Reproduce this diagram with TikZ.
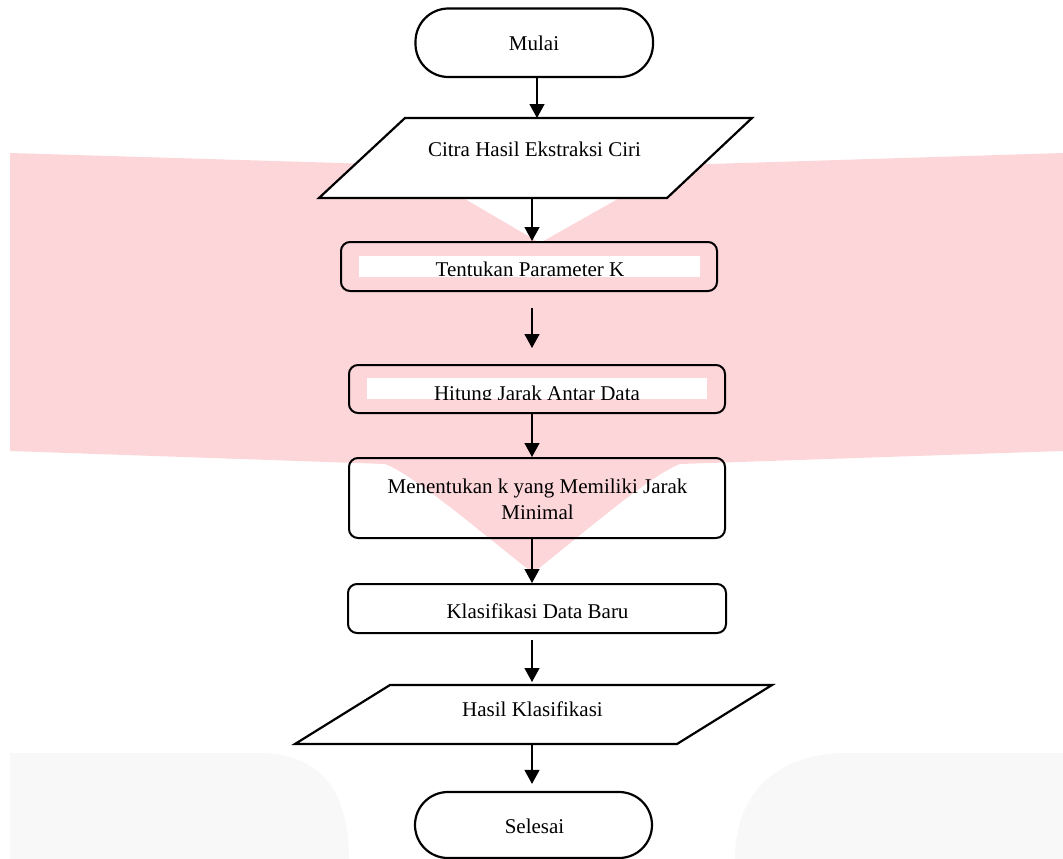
\documentclass[tikz,border=0pt]{standalone}
\usepackage{fontspec}
\setmainfont{Liberation Serif}
\usetikzlibrary{arrows.meta,calc}
\definecolor{wmpink}{RGB}{253,214,218}
\definecolor{wmgray}{RGB}{248,248,248}
\begin{document}
\begin{tikzpicture}[x=1pt,y=-1pt,
  shapebox/.style={draw=black, line width=2pt, rounded corners=9pt, inner sep=0pt},
  term/.style={draw=black, line width=2.2pt, rounded corners=33pt, inner sep=0pt},
  anch/.style={inner sep=0pt, outer sep=0pt, draw=none},
  txt/.style={anchor=base, inner sep=0pt, font=\fontsize{21}{26}\selectfont},
  arr/.style={line width=1.3pt, -{Triangle[width=15pt,length=14pt]}},
  para/.style={draw=black, line width=2.2pt, fill=white, line join=miter},
  labelbg/.style={fill=white, inner sep=0pt}]
\useasboundingbox (0,0) rectangle (1063,859);
% watermark
\fill[wmpink] (10,153) -- (407,165) -- (540,243) -- (678,165) -- (1063,153) -- (1063,451)
  -- (680,464) .. controls (650,475) and (575,540) .. (533,573)
  .. controls (490,540) and (415,475) .. (385,464) -- (10,451) -- cycle;
\fill[wmgray] (10,753) -- (258,753) .. controls (320,753) and (349,790) .. (349,859) -- (10,859) -- cycle;
\fill[wmgray] (1063,753) -- (847,753) .. controls (780,753) and (735,790) .. (735,859) -- (1063,859) -- cycle;
% columns
\coordinate (colA) at (537,0);
\coordinate (colB) at (532,0);
% Mulai
\node[term, minimum width=237.5pt, minimum height=68.5pt] (mulai) at (534.25,42.75) {};
\node[txt] (mulait) at (534,51) {Mulai};
% Citra
\draw[para] (405,118) -- (752,118) -- (667,198) -- (319,198) -- cycle;
\node[anch, minimum width=340pt, minimum height=80pt] (cit) at (535.5,158) {};
\node[txt] (citt) at (534.5,156) {Citra Hasil Ekstraksi Ciri};
% Tentukan
\node[shapebox, minimum width=376pt, minimum height=49pt] (tent) at (529,266.5) {};
\node[labelbg, minimum width=341pt, minimum height=21pt] (tentbg) at (529.5,266.5) {};
\node[txt] (tentt) at (530,276) {Tentukan Parameter K};
% Hitung
\node[shapebox, minimum width=376pt, minimum height=48pt] (hit) at (537,389) {};
\node[labelbg, minimum width=340pt, minimum height=21pt] (hitbg) at (537,388.5) {};
\begin{scope}
  \clip (367,378) rectangle (707,399);
  \node[txt] (hitt) at (537,400) {Hitung Jarak Antar Data};
\end{scope}
% Menentukan
\node[shapebox, minimum width=376pt, minimum height=80pt] (ment) at (537,498) {};
\node[txt] (mentt1) at (537.5,493) {Menentukan k yang Memiliki Jarak};
\node[txt] (mentt2) at (537.5,519) {Minimal};
% Klasifikasi
\node[shapebox, minimum width=378pt, minimum height=49pt] (klas) at (537,608.5) {};
\node[txt] (klast) at (537.5,618) {Klasifikasi Data Baru};
% Hasil
\draw[para] (390,685) -- (772,685) -- (677,744) -- (295,744) -- cycle;
\node[anch, minimum width=380pt, minimum height=59pt] (hasil) at (533.5,714.5) {};
\node[txt] (hasilt) at (532.5,716) {Hasil Klasifikasi};
% Selesai
\node[term, minimum width=237pt, minimum height=66pt] (sel) at (533.5,825) {};
\node[txt] (selt) at (534.5,833) {Selesai};
% arrows
\draw[arr] (mulai.south -| colA) -- (cit.north -| colA);
\draw[arr] (cit.south -| colB) -- (tent.north -| colB);
\draw[arr] ($(tent.south -| colB)+(0,16)$) -- ($(hit.north -| colB)+(0,-16)$);
\draw[arr] (hit.south -| colB) -- (ment.north -| colB);
\draw[arr] (ment.south -| colB) -- (klas.north -| colB);
\draw[arr] ($(klas.south -| colB)+(0,6)$) -- ($(hasil.north -| colB)+(0,-3)$);
\draw[arr] (hasil.south -| colB) -- ($(sel.north -| colB)+(0,-7)$);
\end{tikzpicture}
\end{document}
